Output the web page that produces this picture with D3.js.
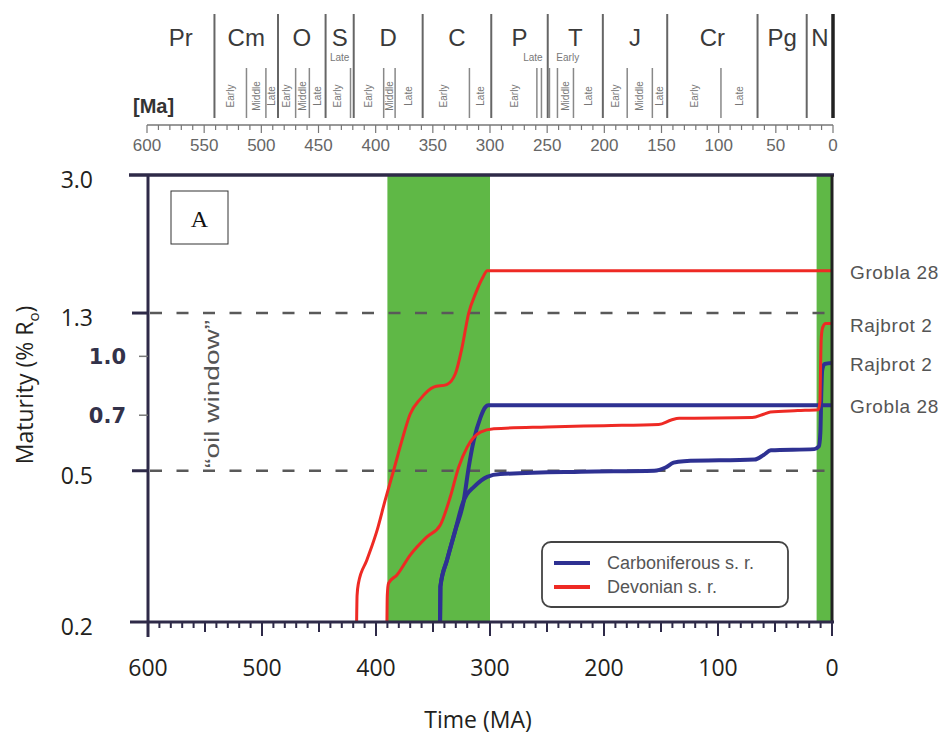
<!DOCTYPE html>
<meta charset="utf-8" />
<script src="https://d3js.org/d3.v7.min.js"></script>
<style>
  body { margin: 0; background: #fff; }
  text { font-family: "Open Sans", sans-serif; }
</style>
<body>
<div id="chart"></div>
<script>
  // ---- data ----
  const ageTicks = [600, 500, 400, 300, 200, 100, 0];
  const roTicks = [3.0, 1.3, 1.0, 0.7, 0.5, 0.2];
  const roBold = [1.0, 0.7];
  const oilWindow = [1.3, 0.5];
  const greenBands = [[390, 300], [13.5, 0]];

  // [age Ma, maturity %Ro]
  const groblaDevonian = [[417, 0.2], [416.6, 0.235], [415.4, 0.253], [408, 0.291], [399, 0.349], [392, 0.418],
    [384.6, 0.5], [377.3, 0.6], [370, 0.705], [361, 0.773], [349.5, 0.83], [338, 0.843], [330.4, 0.9],
    [324.5, 1.056], [318.7, 1.3], [312.8, 1.46], [306, 1.62], [302.5, 1.68], [298, 1.68], [0, 1.68]];
  const rajbrotDevonian = [[390.4, 0.2], [390.1, 0.235], [389, 0.253], [381.6, 0.266], [370, 0.3], [355.3, 0.335],
    [343.6, 0.36], [334.8, 0.427], [327.5, 0.511], [320, 0.577], [308.4, 0.632], [296.7, 0.645], [250, 0.652],
    [200, 0.657], [152, 0.662], [141, 0.68], [134, 0.687], [70, 0.69], [60, 0.704], [54, 0.714], [30, 0.72],
    [12, 0.724], [10.6, 0.76], [10, 0.95], [9.4, 1.12], [8.2, 1.19], [5.5, 1.22], [0, 1.22]];
  const groblaCarboniferous = [[343.8, 0.2], [343.5, 0.248], [337.7, 0.291], [330.4, 0.349], [323, 0.418],
    [318.7, 0.51], [314.3, 0.6], [308.4, 0.69], [304, 0.735], [301.5, 0.743], [0, 0.743]];
  const rajbrotCarboniferous = [[343.8, 0.2], [343.5, 0.248], [337.7, 0.291], [330.4, 0.349], [324, 0.41],
    [320.5, 0.432], [314.3, 0.453], [302.5, 0.482], [291, 0.49], [220, 0.497], [156, 0.5], [146, 0.51],
    [139, 0.525], [130, 0.53], [68, 0.535], [60, 0.55], [53.6, 0.566], [15.5, 0.57], [11.5, 0.58],
    [10.2, 0.63], [9.4, 0.8], [8.6, 0.92], [6.5, 0.955], [0, 0.96]];

  const wellNames = ["Grobla 28", "Rajbrot 2", "Rajbrot 2", "Grobla 28"];
  const legendNames = ["Carboniferous s. r.", "Devonian s. r."];

  // geological time scale
  const periodNames = ["Pr", "Cm", "O", "S", "D", "C", "P", "T", "J", "Cr", "Pg", "N"];
  const periodStarts = [600, 541, 485.4, 443.8, 419.2, 358.9, 298.9, 249.5, 201.3, 145, 66, 23];
  const epochLines = [513, 496, 470, 458, 422, 393, 383, 318, 259, 255, 248, 241, 227, 180, 158, 98];
  const epochNames = ["Early", "Middle", "Late", "Early", "Middle", "Late", "Early", "Early", "Middle", "Late",
    "Early", "Late", "Early", "Middle", "Late", "Early", "Middle", "Late", "Early", "Late"];
  const epochMids = [527, 504.5, 490.7, 477.7, 464, 451, 433, 406, 388, 371,
    341, 308, 279, 234, 214, 190.6, 169, 151.5, 121.5, 82];
  const flatEpochNames = ["Late", "Late", "Early"];
  const flatEpochMids = [431.5, 262.5, 232];
  const topTicks = [600, 550, 500, 450, 400, 350, 300, 250, 200, 150, 100, 50, 0];

  // ---- layout ----
  const W = 943, H = 736;
  const axisCol = "#2e2a48";
  const svg = d3.select("#chart").append("svg").attr("width", W).attr("height", H);

  const x = d3.scaleLinear().domain([600, 0]).range([148, 832]);
  const y = d3.scaleLog().domain([0.2, 3]).range([622, 175]);
  const xt = d3.scaleLinear().domain([600, 0]).range([147, 833]);

  // ---- time scale panel ----
  const scaleG = svg.append("g");
  scaleG.selectAll("line.period")
    .data(periodStarts.slice(1).concat([0]))
    .enter().append("line")
    .attr("x1", d => xt(d)).attr("x2", d => xt(d))
    .attr("y1", 14).attr("y2", 118)
    .attr("stroke", d => d === 0 ? "#222" : "#666")
    .attr("stroke-width", d => d === 0 ? 3.5 : 2);
  scaleG.selectAll("line.epoch")
    .data(epochLines)
    .enter().append("line")
    .attr("x1", d => xt(d)).attr("x2", d => xt(d))
    .attr("y1", 68).attr("y2", 118)
    .attr("stroke", "#888").attr("stroke-width", 1.5);
  scaleG.selectAll("text.period")
    .data(periodNames)
    .enter().append("text")
    .attr("x", (d, i) => xt(((periodStarts[i]) + (i < periodStarts.length - 1 ? periodStarts[i + 1] : 0)) / 2))
    .attr("y", 46)
    .attr("text-anchor", "middle")
    .style("font-family", "Liberation Sans, Arial, sans-serif")
    .style("font-size", "24px")
    .attr("fill", "#3a3a3a")
    .text(d => d);
  scaleG.selectAll("text.epoch")
    .data(epochNames)
    .enter().append("text")
    .attr("transform", (d, i) => "translate(" + (xt(epochMids[i]) + 3.5) + ",96) rotate(-90)")
    .attr("text-anchor", "middle")
    .style("font-family", "Liberation Sans, Arial, sans-serif")
    .style("font-size", "10px")
    .attr("fill", "#777")
    .text(d => d);
  scaleG.selectAll("text.flat")
    .data(flatEpochNames)
    .enter().append("text")
    .attr("x", (d, i) => xt(flatEpochMids[i]))
    .attr("y", 61)
    .attr("text-anchor", "middle")
    .style("font-family", "Liberation Sans, Arial, sans-serif")
    .style("font-size", "10px")
    .attr("fill", "#777")
    .text(d => d);
  scaleG.append("text")
    .attr("x", 133).attr("y", 113)
    .style("font-family", "Liberation Sans, Arial, sans-serif")
    .style("font-size", "20px").style("font-weight", "bold")
    .attr("fill", "#333")
    .text("[Ma]");
  scaleG.append("line")
    .attr("x1", xt(600)).attr("x2", xt(0)).attr("y1", 125).attr("y2", 125)
    .attr("stroke", "#777").attr("stroke-width", 1.5);
  scaleG.selectAll("line.tt")
    .data(d3.range(0, 601, 10))
    .enter().append("line")
    .attr("x1", d => xt(d)).attr("x2", d => xt(d))
    .attr("y1", 125).attr("y2", d => d % 50 === 0 ? 133 : 130)
    .attr("stroke", "#777").attr("stroke-width", 1.2);
  scaleG.selectAll("text.tt")
    .data(topTicks)
    .enter().append("text")
    .attr("x", d => xt(d)).attr("y", 151)
    .attr("text-anchor", "middle")
    .style("font-family", "Liberation Sans, Arial, sans-serif")
    .style("font-size", "17px")
    .attr("fill", "#666")
    .text(d => d);

  // ---- main plot ----
  const g = svg.append("g");

  g.selectAll("rect.band")
    .data(greenBands)
    .enter().append("rect")
    .attr("x", d => x(d[0])).attr("width", d => x(d[1]) - x(d[0]))
    .attr("y", y(3)).attr("height", y(0.2) - y(3))
    .attr("fill", "#5fb846");

  g.selectAll("line.oil")
    .data(oilWindow)
    .enter().append("line")
    .attr("x1", 150).attr("x2", 830)
    .attr("y1", d => y(d)).attr("y2", d => y(d))
    .attr("stroke", "#595959").attr("stroke-width", 2.5)
    .attr("stroke-dasharray", "12,14.5");

  const line = d3.line()
    .x(d => x(d[0]))
    .y(d => y(d[1]))
    .curve(d3.curveMonotoneX);

  const series = [
    { data: groblaCarboniferous, color: "#2e3192", w: 4 },
    { data: rajbrotCarboniferous, color: "#2e3192", w: 4 },
    { data: groblaDevonian, color: "#ee2a24", w: 3 },
    { data: rajbrotDevonian, color: "#ee2a24", w: 3 }
  ];
  g.selectAll("path.curve")
    .data(series)
    .enter().append("path")
    .attr("d", d => line(d.data))
    .attr("fill", "none")
    .attr("stroke", d => d.color)
    .attr("stroke-width", d => d.w)
    .attr("stroke-linejoin", "round");

  // frame
  g.append("line").attr("x1", 129).attr("x2", 834).attr("y1", y(3)).attr("y2", y(3))
    .attr("stroke", axisCol).attr("stroke-width", 3.5);
  g.append("line").attr("x1", 148).attr("x2", 148).attr("y1", y(3)).attr("y2", 637)
    .attr("stroke", axisCol).attr("stroke-width", 3);
  g.append("line").attr("x1", 832).attr("x2", 832).attr("y1", y(3)).attr("y2", y(0.2))
    .attr("stroke", "#222").attr("stroke-width", 3);
  g.append("line").attr("x1", 130).attr("x2", 834).attr("y1", y(0.2)).attr("y2", y(0.2))
    .attr("stroke", axisCol).attr("stroke-width", 3);

  // x ticks
  g.selectAll("line.xt")
    .data(d3.range(0, 601, 10))
    .enter().append("line")
    .attr("x1", d => x(d)).attr("x2", d => x(d))
    .attr("y1", y(0.2)).attr("y2", d => y(0.2) + (d % 100 === 0 ? 14 : d % 50 === 0 ? 10 : 6))
    .attr("stroke", axisCol).attr("stroke-width", 2);
  g.selectAll("text.xt")
    .data(ageTicks)
    .enter().append("text")
    .attr("x", d => x(d)).attr("y", 676)
    .attr("text-anchor", "middle")
    .style("font-size", "23px")
    .attr("fill", "#231f20")
    .text(d => d);

  // y ticks
  g.selectAll("line.yt")
    .data(roTicks.filter(d => d !== 3.0 && d !== 0.2))
    .enter().append("line")
    .attr("x1", d => roBold.includes(d) ? 139 : 132).attr("x2", 148)
    .attr("y1", d => y(d)).attr("y2", d => y(d))
    .attr("stroke", d => roBold.includes(d) ? "#777" : axisCol)
    .attr("stroke-width", d => roBold.includes(d) ? 1.5 : 3);
  g.selectAll("text.yt")
    .data(roTicks)
    .enter().append("text")
    .attr("x", d => roBold.includes(d) ? 126 : 93)
    .attr("y", d => y(d) + (roBold.includes(d) ? 8 : 13))
    .attr("text-anchor", "end")
    .style("font-family", d => roBold.includes(d) ? "DejaVu Sans, sans-serif" : "Open Sans, sans-serif")
    .style("font-weight", d => roBold.includes(d) ? "bold" : "normal")
    .style("font-size", d => roBold.includes(d) ? "21px" : "23px")
    .attr("fill", d => roBold.includes(d) ? "#33324a" : "#231f20")
    .text(d => d.toFixed(1));

  // axis titles
  svg.append("text")
    .attr("x", 478).attr("y", 728)
    .attr("text-anchor", "middle")
    .style("font-size", "23px")
    .attr("fill", "#231f20")
    .text("Time (MA)");
  const yl = svg.append("text")
    .attr("transform", "translate(33,385) rotate(-90)")
    .attr("text-anchor", "middle")
    .style("font-size", "23px")
    .attr("fill", "#231f20");
  yl.append("tspan").text("Maturity (% R");
  yl.append("tspan").attr("dy", 6).style("font-size", "15px").text("o");
  yl.append("tspan").attr("dy", -6).text(")");

  // "A" box
  g.append("rect").attr("x", 171).attr("y", 191).attr("width", 57).attr("height", 53)
    .attr("fill", "white").attr("stroke", "#333").attr("stroke-width", 1);
  g.append("text").attr("x", 199.5).attr("y", 227)
    .attr("text-anchor", "middle")
    .style("font-family", "Liberation Serif, serif").style("font-size", "24px")
    .attr("fill", "#111")
    .text("A");

  // oil window label
  g.append("text")
    .attr("transform", "translate(219," + ((y(1.3) + y(0.5)) / 2 + 2) + ") rotate(-90)")
    .attr("text-anchor", "middle")
    .style("font-family", "Liberation Sans, Arial, sans-serif")
    .style("font-size", "20px")
    .attr("textLength", 148).attr("lengthAdjust", "spacingAndGlyphs")
    .attr("fill", "#555")
    .text("\u201Coil window\u201D");

  // well labels at the right
  const ends = [groblaDevonian, rajbrotDevonian, rajbrotCarboniferous, groblaCarboniferous];
  g.selectAll("text.well")
    .data(wellNames)
    .enter().append("text")
    .attr("x", 850)
    .attr("y", (d, i) => y(ends[i][ends[i].length - 1][1]) + 8)
    .style("font-family", "Liberation Sans, Arial, sans-serif")
    .style("font-size", "19px")
    .style("letter-spacing", "0.6px")
    .attr("fill", "#555")
    .text(d => d);

  // legend
  const lg = g.append("g");
  lg.append("rect").attr("x", 542).attr("y", 542).attr("width", 246).attr("height", 65)
    .attr("rx", 9).attr("fill", "white").attr("stroke", "#444").attr("stroke-width", 1.8);
  const legendColors = ["#2e3192", "#ee2a24"];
  lg.selectAll("line.lg")
    .data(legendNames)
    .enter().append("line")
    .attr("x1", 554).attr("x2", 590)
    .attr("y1", (d, i) => 563 + i * 24).attr("y2", (d, i) => 563 + i * 24)
    .attr("stroke", (d, i) => legendColors[i]).attr("stroke-width", 4);
  lg.selectAll("text.lg")
    .data(legendNames)
    .enter().append("text")
    .attr("x", 607)
    .attr("y", (d, i) => 569 + i * 24)
    .style("font-family", "Liberation Sans, Arial, sans-serif")
    .style("font-size", "18px")
    .attr("fill", "#555")
    .text(d => d);
</script>
</body>
